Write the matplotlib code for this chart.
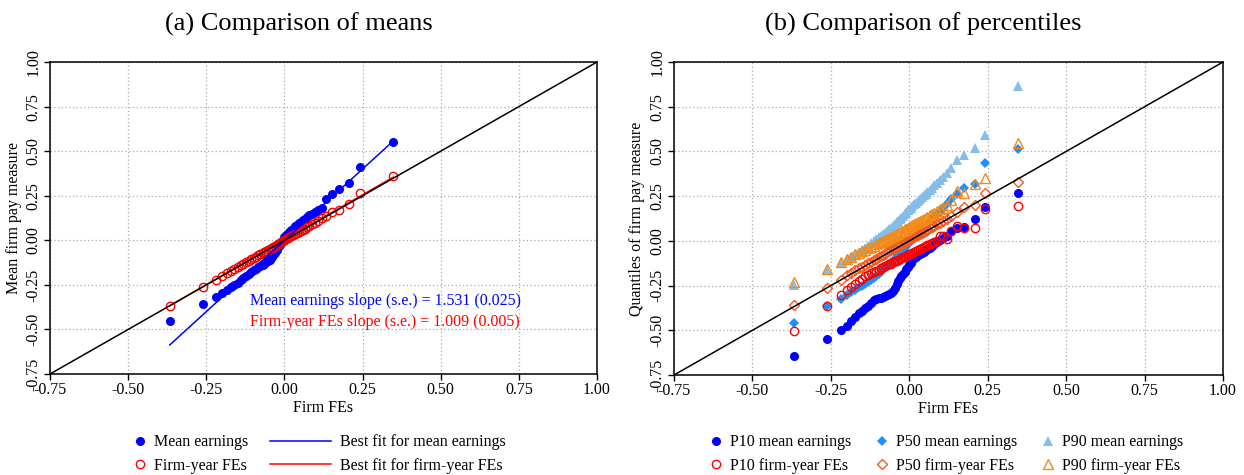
import matplotlib
matplotlib.use("Agg")
import matplotlib.pyplot as plt
from matplotlib.lines import Line2D
import numpy as np

plt.rcParams['font.family'] = ['Liberation Serif', 'DejaVu Serif']
plt.rcParams['axes.unicode_minus'] = False

# firm FE bins (x axis, shared by both panels)
firm_fe = [-0.367, -0.261, -0.219, -0.200, -0.185, -0.172, -0.160, -0.150, -0.140, -0.131,
           -0.122, -0.114, -0.106, -0.098, -0.091, -0.084, -0.077, -0.070, -0.064, -0.058,
           -0.052, -0.046, -0.040, -0.035, -0.030, -0.025, -0.020, -0.015, -0.010, -0.005,
           0.000, 0.005, 0.010, 0.016, 0.022, 0.028, 0.034, 0.040, 0.046, 0.052,
           0.058, 0.065, 0.072, 0.080, 0.088, 0.097, 0.107, 0.119, 0.133, 0.152,
           0.176, 0.208, 0.242, 0.348]

# panel (a)
mean_earn = [-0.453, -0.360, -0.320, -0.294, -0.278, -0.264, -0.250, -0.238, -0.224, -0.212,
             -0.201, -0.190, -0.178, -0.167, -0.160, -0.150, -0.146, -0.140, -0.133, -0.124,
             -0.116, -0.108, -0.096, -0.082, -0.070, -0.055, -0.038, -0.026, -0.012, 0.004,
             0.018, 0.028, 0.036, 0.048, 0.060, 0.066, 0.078, 0.088, 0.096, 0.104,
             0.112, 0.122, 0.130, 0.140, 0.148, 0.158, 0.168, 0.184, 0.232, 0.258,
             0.287, 0.324, 0.413, 0.549]
firm_year = [-0.369, -0.262, -0.221, -0.198, -0.183, -0.170, -0.160, -0.149, -0.139, -0.131,
             -0.124, -0.116, -0.107, -0.099, -0.093, -0.085, -0.079, -0.071, -0.066, -0.059,
             -0.053, -0.047, -0.042, -0.036, -0.030, -0.026, -0.021, -0.015, -0.011, -0.006,
             0.001, 0.005, 0.011, 0.016, 0.023, 0.028, 0.035, 0.041, 0.046, 0.053,
             0.059, 0.066, 0.074, 0.081, 0.089, 0.099, 0.110, 0.124, 0.136, 0.156,
             0.171, 0.204, 0.267, 0.360]
fit_mean = (0.0, 1.60)      # intercept, slope as drawn
fit_fy = (0.003, 1.009)
slope_txt_mean = "Mean earnings slope (s.e.) = 1.531 (0.025)"
slope_txt_fy = "Firm-year FEs slope (s.e.) = 1.009 (0.005)"

# panel (b)
p10_mean = [-0.642, -0.546, -0.500, -0.477, -0.448, -0.425, -0.405, -0.392, -0.378, -0.362,
            -0.346, -0.332, -0.326, -0.322, -0.318, -0.314, -0.308, -0.302, -0.296, -0.290,
            -0.278, -0.262, -0.240, -0.225, -0.210, -0.196, -0.184, -0.172, -0.160, -0.148,
            -0.136, -0.122, -0.108, -0.098, -0.088, -0.080, -0.072, -0.066, -0.060, -0.053,
            -0.047, -0.040, -0.030, -0.020, -0.008, 0.004, 0.016, 0.030, 0.055, 0.070,
            0.080, 0.125, 0.187, 0.267]
p10_fy = [-0.505, -0.364, -0.305, -0.277, -0.258, -0.241, -0.225, -0.212, -0.198, -0.188,
          -0.180, -0.174, -0.168, -0.161, -0.154, -0.148, -0.142, -0.137, -0.132, -0.127,
          -0.120, -0.115, -0.110, -0.105, -0.101, -0.097, -0.092, -0.088, -0.084, -0.080,
          -0.075, -0.071, -0.066, -0.061, -0.056, -0.051, -0.046, -0.041, -0.036, -0.031,
          -0.025, -0.019, -0.013, -0.006, 0.002, 0.025, 0.030, 0.011, 0.054, 0.081,
          0.072, 0.072, 0.178, 0.197]
p50_mean = [-0.459, -0.364, -0.323, -0.300, -0.286, -0.272, -0.260, -0.250, -0.240, -0.230,
            -0.220, -0.208, -0.196, -0.184, -0.172, -0.160, -0.150, -0.140, -0.130, -0.120,
            -0.110, -0.100, -0.090, -0.080, -0.070, -0.060, -0.050, -0.040, -0.030, -0.020,
            -0.010, 0.000, 0.010, 0.020, 0.030, 0.040, 0.050, 0.060, 0.072, 0.084,
            0.096, 0.108, 0.120, 0.134, 0.148, 0.164, 0.182, 0.204, 0.234, 0.262,
            0.298, 0.317, 0.438, 0.512]
p50_fy = [-0.360, -0.262, -0.217, -0.193, -0.178, -0.165, -0.154, -0.144, -0.134, -0.125,
          -0.116, -0.108, -0.100, -0.092, -0.085, -0.078, -0.071, -0.064, -0.058, -0.052,
          -0.046, -0.040, -0.034, -0.029, -0.024, -0.019, -0.014, -0.009, -0.004, 0.001,
          0.006, 0.011, 0.016, 0.021, 0.027, 0.033, 0.039, 0.045, 0.051, 0.057,
          0.063, 0.070, 0.077, 0.085, 0.093, 0.102, 0.112, 0.125, 0.140, 0.160,
          0.187, 0.202, 0.265, 0.332]
p90_mean = [-0.245, -0.165, -0.125, -0.104, -0.088, -0.074, -0.062, -0.050, -0.038, -0.026,
            -0.012, 0.000, 0.012, 0.020, 0.030, 0.038, 0.046, 0.056, 0.064, 0.072,
            0.082, 0.092, 0.104, 0.112, 0.120, 0.130, 0.140, 0.150, 0.160, 0.170,
            0.178, 0.186, 0.194, 0.204, 0.214, 0.224, 0.234, 0.244, 0.254, 0.262,
            0.272, 0.284, 0.298, 0.312, 0.326, 0.340, 0.356, 0.380, 0.405, 0.450,
            0.478, 0.520, 0.592, 0.865]
p90_fy = [-0.230, -0.160, -0.120, -0.104, -0.090, -0.076, -0.066, -0.058, -0.050, -0.042,
          -0.034, -0.028, -0.020, -0.012, -0.006, 0.000, 0.006, 0.012, 0.018, 0.022,
          0.028, 0.034, 0.040, 0.044, 0.050, 0.054, 0.058, 0.064, 0.068, 0.074,
          0.078, 0.084, 0.088, 0.094, 0.100, 0.106, 0.112, 0.118, 0.124, 0.130,
          0.136, 0.144, 0.150, 0.158, 0.168, 0.176, 0.186, 0.200, 0.230, 0.280,
          0.270, 0.317, 0.351, 0.549]

lims = [-0.75, 1.0]
ticks = [-0.75, -0.50, -0.25, 0.00, 0.25, 0.50, 0.75, 1.00]

BLUE = '#0000ff'
RED = '#ff0000'
P50B = '#1e8fff'
P50O = '#f5581e'
P90B = '#85bde8'
P90O = '#f28a1a'

fig = plt.figure(figsize=(12.44, 4.75), dpi=100)
ax1 = fig.add_axes([0.0402, 0.2126, 0.4397, 0.6568])
ax2 = fig.add_axes([0.5418, 0.2105, 0.4413, 0.6589])


def style(ax, ylabel):
    ax.set_xlim(lims)
    ax.set_ylim(lims)
    ax.set_xticks(ticks)
    ax.set_yticks(ticks)
    ax.set_xticklabels(['%.2f' % t for t in ticks])
    ax.set_yticklabels(['%.2f' % t for t in ticks], rotation=90, va='center')
    ax.tick_params(direction='out', length=4, width=1, labelsize=11.5, pad=2)
    ax.grid(True, color='#aaaaaa', linestyle=(0, (1, 2)), linewidth=0.9)
    ax.set_axisbelow(True)
    for s in ax.spines.values():
        s.set_linewidth(1.1)
    ax.set_xlabel('Firm FEs', fontsize=11.5, labelpad=1)
    ax.set_ylabel(ylabel, fontsize=11.5, labelpad=3)


x = np.array(firm_fe)

# ---- (a)
style(ax1, 'Mean firm pay measure')
ax1.plot(x, mean_earn, 'o', color=BLUE, ms=6.5, mew=0, zorder=3)
ax1.plot(x, firm_year, 'o', mfc='none', mec=RED, ms=6, mew=1, zorder=4)
xf = np.array([x.min(), x.max()])
ax1.plot(xf, fit_mean[0] + fit_mean[1] * xf, color=BLUE, lw=1.1, zorder=5)
ax1.plot(xf, fit_fy[0] + fit_fy[1] * xf, color=RED, lw=1.1, zorder=5)
ax1.plot(lims, lims, color='black', lw=1.1, zorder=6)
ax1.text(-0.11, -0.340, slope_txt_mean, color=BLUE, fontsize=11.5, va='center')
ax1.text(-0.11, -0.457, slope_txt_fy, color=RED, fontsize=11.5, va='center')

h_pts = [Line2D([], [], ls='none', marker='o', color=BLUE, ms=6.5, mew=0),
         Line2D([], [], ls='none', marker='o', mfc='none', mec=RED, ms=6, mew=1)]
h_lin = [Line2D([], [], color=BLUE, lw=1.1), Line2D([], [], color=RED, lw=1.1)]
fig.legend(h_pts, ['Mean earnings', 'Firm-year FEs'], loc='upper left',
           bbox_to_anchor=(0.106, 0.086), frameon=False, fontsize=11.5,
           handlelength=1.0, handletextpad=0.4, labelspacing=0.47,
           borderpad=0, borderaxespad=0)
fig.legend(h_lin, ['Best fit for mean earnings', 'Best fit for firm-year FEs'],
           loc='upper left', bbox_to_anchor=(0.217, 0.086), frameon=False,
           fontsize=11.5, handlelength=3.8, handletextpad=0.6, labelspacing=0.47,
           borderpad=0, borderaxespad=0)

# ---- (b)
style(ax2, 'Quantiles of firm pay measure')
ax2.plot(x, p10_mean, 'o', color=BLUE, ms=6.5, mew=0, zorder=3, label='P10 mean earnings')
ax2.plot(x, p50_mean, 'D', color=P50B, ms=5.5, mew=0, zorder=3, label='P50 mean earnings')
ax2.plot(x, p90_mean, '^', color=P90B, ms=7, mew=0, zorder=3, label='P90 mean earnings')
ax2.plot(x, p10_fy, 'o', mfc='none', mec=RED, ms=6, mew=1, zorder=4, label='P10 firm-year FEs')
ax2.plot(x, p50_fy, 'D', mfc='none', mec=P50O, ms=5.5, mew=1, zorder=4, label='P50 firm-year FEs')
ax2.plot(x, p90_fy, '^', mfc='none', mec=P90O, ms=6.5, mew=1, zorder=4, label='P90 firm-year FEs')
ax2.plot(lims, lims, color='black', lw=1.1, zorder=6)

hs, ls = ax2.get_legend_handles_labels()
order = [0, 3, 1, 4, 2, 5]
fig.legend([hs[i] for i in order], [ls[i] for i in order], loc='upper left',
           bbox_to_anchor=(0.569, 0.086), ncol=3, frameon=False, fontsize=11.5,
           handlelength=1.0, handletextpad=0.4, labelspacing=0.47, columnspacing=1.4,
           borderpad=0, borderaxespad=0)

fig.text(0.240, 0.949, '(a) Comparison of means', fontsize=19, ha='center', va='center')
fig.text(0.742, 0.949, '(b) Comparison of percentiles', fontsize=19, ha='center', va='center')

fig.savefig('out.png', dpi=100)
